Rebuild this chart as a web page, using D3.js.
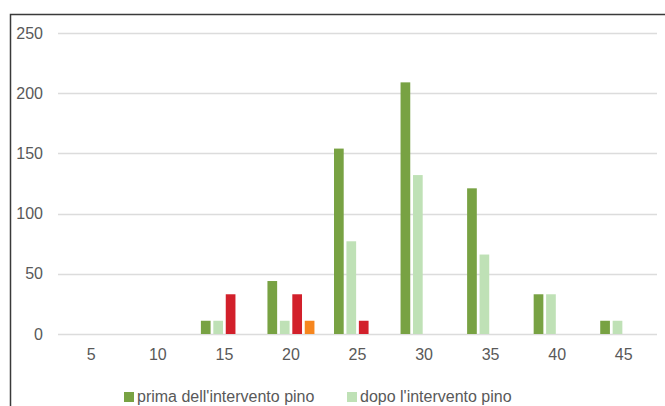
<!DOCTYPE html>
<html>
<head>
<meta charset="utf-8">
<script src="https://cdn.jsdelivr.net/npm/d3@7"></script>
<style>
  html, body { margin: 0; padding: 0; background: #fff; }
  svg { display: block; }
  text { font-family: "Liberation Sans Narrow", "Liberation Sans", Arial, sans-serif; fill: #595959; }
</style>
</head>
<body>
<svg id="chart" width="665" height="406"></svg>
<script>
// Diameter classes (cm)
const categories = [5, 10, 15, 20, 25, 30, 35, 40, 45];
const seriesNames = ["prima dell'intervento pino", "dopo l'intervento pino", "serie 3", "serie 4"];
const seriesColors = ["#78a243", "#bfe1b6", "#d2202b", "#f6861f"];
// Stems per hectare by diameter class, one array per series
const primaPino = [0, 0, 11, 44, 154, 209, 121, 33, 11];
const dopoPino  = [0, 0, 11, 11, 77, 132, 66, 33, 11];
const serie3    = [0, 0, 33, 33, 11, 0, 0, 0, 0];
const serie4    = [0, 0, 0, 11, 0, 0, 0, 0, 0];
const yTicks = [0, 50, 100, 150, 200, 250];

const seriesValues = [primaPino, dopoPino, serie3, serie4];
const svg = d3.select("#chart");

// Outer frame (top and left edges)
svg.append("path")
  .attr("d", "M10.5,406 V14.5 H665")
  .attr("fill", "none")
  .attr("stroke", "#3a3a3a")
  .attr("stroke-width", 1.5);

const plotLeft = 58, plotRight = 657;
const x0 = d3.scaleBand().domain(categories).range([plotLeft, plotRight]).padding(0);
const groupWidth = 47;
const x1 = d3.scaleBand().domain(d3.range(seriesNames.length)).range([0, groupWidth]).paddingInner(0.22);
const y = d3.scaleLinear().domain([0, 250]).range([334, 33]);

// Horizontal gridlines
svg.append("g").selectAll("line").data(yTicks).join("line")
  .attr("x1", plotLeft).attr("x2", plotRight)
  .attr("y1", d => Math.round(y(d)) + 0.5).attr("y2", d => Math.round(y(d)) + 0.5)
  .attr("stroke", "#dcdcdc").attr("stroke-width", 1.5);

// Y axis labels
const yAxis = d3.axisLeft(y).tickValues(yTicks).tickSize(0).tickPadding(0);
svg.append("g").attr("transform", "translate(43,0)").call(yAxis)
  .call(g => g.select(".domain").remove())
  .call(g => g.selectAll("text").attr("font-size", 16).attr("fill", "#595959")
    .style("font-family", "'Liberation Sans Narrow', 'Liberation Sans', Arial, sans-serif"));

// X axis labels
const xAxis = d3.axisBottom(x0).tickSize(0).tickPadding(0);
svg.append("g").attr("transform", "translate(0,349)").call(xAxis)
  .call(g => g.select(".domain").remove())
  .call(g => g.selectAll("text").attr("font-size", 16).attr("fill", "#595959")
    .style("font-family", "'Liberation Sans Narrow', 'Liberation Sans', Arial, sans-serif"));

// Bars
const rows = categories.map((c, i) => ({ cat: c, vals: seriesValues.map(s => s[i]) }));
const groups = svg.append("g").selectAll("g").data(rows).join("g")
  .attr("transform", d => `translate(${x0(d.cat) + (x0.bandwidth() - groupWidth) / 2},0)`);
groups.selectAll("rect")
  .data(d => d.vals.map((v, k) => ({ k, v })).filter(e => e.v > 0))
  .join("rect")
  .attr("x", e => x1(e.k))
  .attr("width", x1.bandwidth())
  .attr("y", e => y(e.v))
  .attr("height", e => y(0) - y(e.v))
  .attr("fill", e => seriesColors[e.k]);

// Legend (first two series)
const legendItems = [
  { name: seriesNames[0], color: seriesColors[0], x: 124 },
  { name: seriesNames[1], color: seriesColors[1], x: 347 }
];
const lg = svg.append("g").selectAll("g").data(legendItems).join("g")
  .attr("transform", d => `translate(${d.x},392)`);
lg.append("rect").attr("width", 10).attr("height", 10).attr("fill", d => d.color);
lg.append("text").attr("x", 13).attr("y", 10).attr("font-size", 16).text(d => d.name);
</script>
</body>
</html>
